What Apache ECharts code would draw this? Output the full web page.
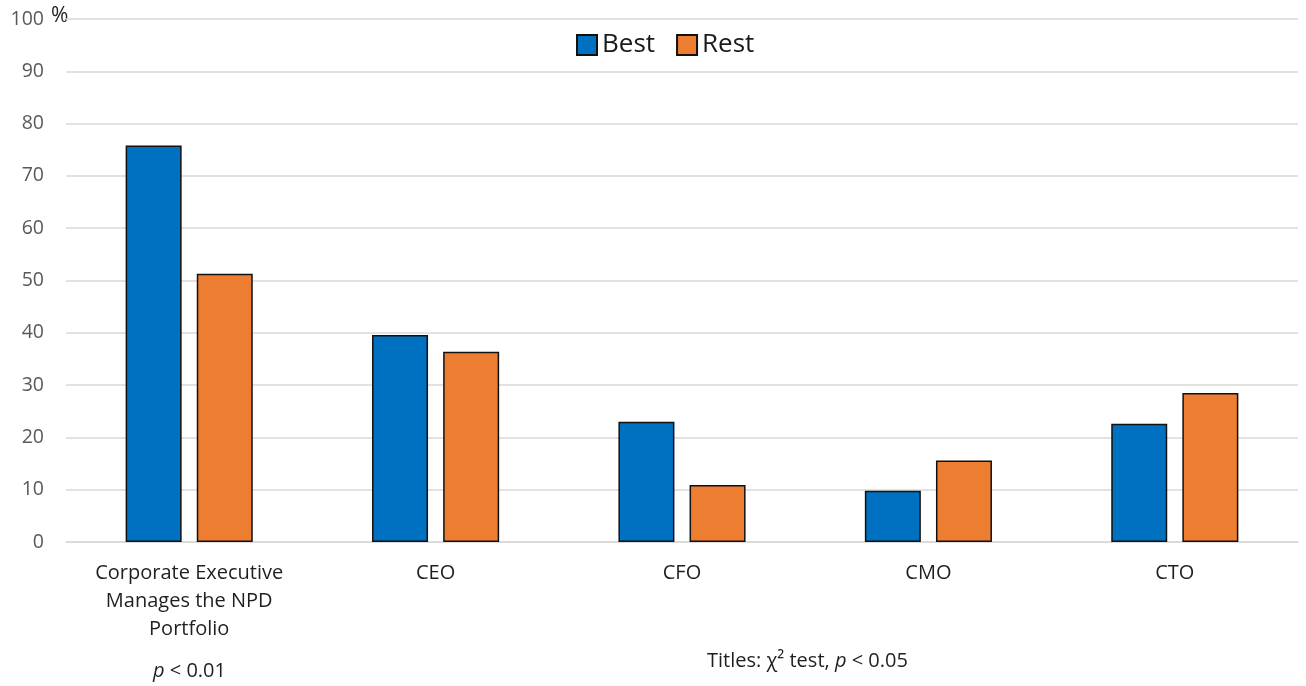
<!DOCTYPE html>
<html><head><meta charset="utf-8">
<script src="https://cdn.jsdelivr.net/npm/echarts@6/dist/echarts.min.js"></script>
<style>html,body{margin:0;padding:0;background:#fff}#c{width:1306px;height:686px}</style>
</head><body><div id="c"></div>
<script>
const categories = ['Corporate Executive\nManages the NPD\nPortfolio', 'CEO', 'CFO', 'CMO', 'CTO'];
const bestValues = [75.8, 39.6, 23.0, 9.8, 22.6];
const restValues = [51.3, 36.4, 10.9, 15.6, 28.5];
const yTicks = { min: 0, max: 100, interval: 10 };
const FONT = 'Open Sans';

const chart = echarts.init(document.getElementById('c'));
chart.setOption({
  animation: false,
  textStyle: { fontFamily: FONT },
  legend: {
    data: ['Best', 'Rest'], top: 27, left: 571,
    itemWidth: 20, itemHeight: 20, itemGap: 21, icon: 'rect',
    textStyle: { fontSize: 26, color: '#1a1a1a', fontFamily: FONT }
  },
  grid: { left: 66, right: 8, top: 19, bottom: 144 },
  xAxis: {
    type: 'category', data: categories,
    axisLine: { lineStyle: { color: '#d9d9d9', width: 1.5 } },
    axisTick: { show: false },
    axisLabel: { color: '#1f1f1f', fontSize: 20, lineHeight: 28, margin: 17, interval: 0, fontFamily: FONT }
  },
  yAxis: {
    type: 'value', min: yTicks.min, max: yTicks.max, interval: yTicks.interval,
    axisLine: { show: false }, axisTick: { show: false },
    splitLine: { lineStyle: { color: '#d9d9d9', width: 1.5 } },
    axisLabel: { color: '#595959', fontSize: 19.5, margin: 22, fontFamily: FONT }
  },
  graphic: [
    { type: 'text', left: 51, top: 6, style: { text: '%', fontSize: 21, fill: '#1f1f1f', fontFamily: FONT } },
    { type: 'text', left: 153, top: 661, style: { text: '{i|p} < 0.01', fontSize: 20, fill: '#1f1f1f', fontFamily: FONT,
      rich: { i: { fontStyle: 'italic', fontSize: 20, fill: '#1f1f1f', fontFamily: FONT } } } },
    { type: 'text', left: 707, top: 651, style: { text: 'Titles: χ² test, {i|p} < 0.05', fontSize: 20, fill: '#1f1f1f', fontFamily: FONT,
      rich: { i: { fontStyle: 'italic', fontSize: 20, fill: '#1f1f1f', fontFamily: FONT } } } }
  ],
  series: [
    { name: 'Best', type: 'bar', data: bestValues, barWidth: 56, barGap: '27%',
      itemStyle: { color: '#0070C0', borderColor: '#111', borderWidth: 1.5 } },
    { name: 'Rest', type: 'bar', data: restValues, barWidth: 56,
      itemStyle: { color: '#ED7D31', borderColor: '#111', borderWidth: 1.5 } }
  ]
});
</script></body></html>
